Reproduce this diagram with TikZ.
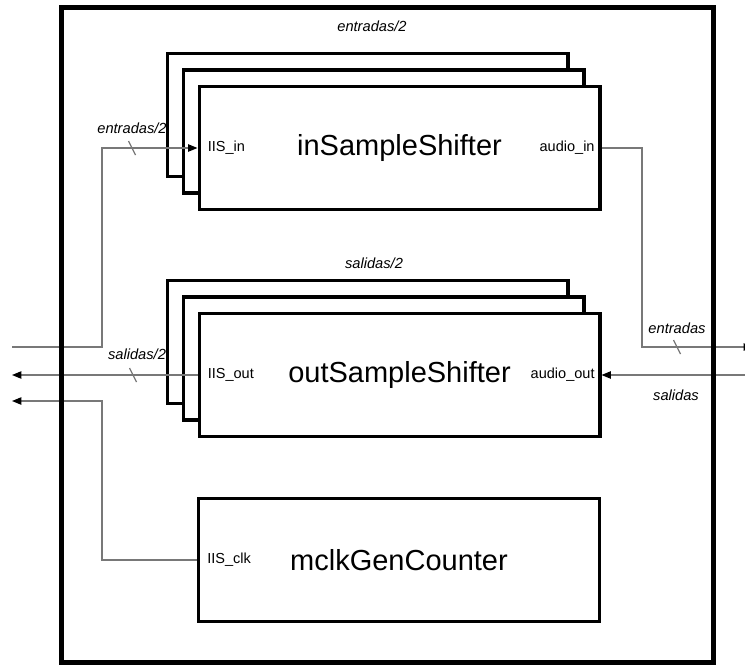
\documentclass[tikz,border=0pt]{standalone}
\usepackage{fontspec}
\setmainfont{Liberation Sans}
\usetikzlibrary{arrows.meta,calc}
\definecolor{wiregray}{RGB}{120,120,120}

\begin{document}
\begin{tikzpicture}[x=0.75pt,y=-0.75pt,
  blockbox/.style={draw=black, line width=2.6pt, fill=white,
    minimum width=300.4pt, minimum height=92.25pt, inner sep=0pt,
    font=\fontsize{21.75}{26}\selectfont},
  port/.style={inner sep=0pt, font=\fontsize{10.9}{13}\selectfont},
  buslabel/.style={inner sep=0pt, font=\fontsize{11}{13}\selectfont\itshape},
  conn/.style={draw=wiregray, line width=0.9pt},
  sig/.style={conn, -{Triangle[length=7pt,width=5.5pt,color=black]}},
  bustick/.pic={\draw[conn] (-3.5,-7) -- (3.5,7);}
]
\useasboundingbox (0,0) rectangle (745,664);

% inSampleShifter stack (three instances)
\node[blockbox] (bin) at (367.5,115) {};
\node[blockbox] (min) at (383.5,131.5) {};
\node[blockbox] (fin) at (399.5,148) {inSampleShifter};
\node[port, anchor=west] (pin)  at ([xshift=7.5pt]fin.west) {IIS\_in};
\node[port, anchor=east] (pain) at ([xshift=-5pt]fin.east) {audio\_in};
\node[buslabel] (lin) at (372,26) {entradas/2};

% outSampleShifter stack
\node[blockbox] (bout) at (367.5,342) {};
\node[blockbox] (mout) at (383.5,358.5) {};
\node[blockbox] (fout) at (399.5,375) {outSampleShifter};
\node[port, anchor=west] (pout)  at ([xshift=7.5pt]fout.west) {IIS\_out};
\node[port, anchor=east] (paout) at ([xshift=-5pt]fout.east) {audio\_out};
\node[buslabel] (lout) at (374,263) {salidas/2};

% clock generator
\node[blockbox] (clk) at (399,560) {mclkGenCounter};
\node[port, anchor=west] (pclk) at ([xshift=7.5pt]clk.west) {IIS\_clk};

% external ends of the wires
\coordinate (inL)  at (12,347);
\coordinate (outL) at (12,375);
\coordinate (clkL) at (12,401);
\coordinate (inR)  at (753,347);
\coordinate (outR) at (745,375);

% wires
\draw[sig] (inL) -- ++(90,0) |- (fin.west);
\draw[sig] (fout.west) -- (outL);
\draw[sig] (clk.west) -| ($(clkL)+(90,0)$) -- (clkL);
\draw[sig] (fin.east) -| ($(inR)+(-111,0)$) -- (inR);
\draw[sig] (outR) -- (fout.east);

% bus width marks and labels
\pic at (132,148) {bustick};
\pic at (133,375) {bustick};
\pic at (677,347) {bustick};
\node[buslabel] (lbin)  at (132,128) {entradas/2};
\node[buslabel] (lbout) at (137,354) {salidas/2};
\node[buslabel] (lrin)  at (677,328) {entradas};
\node[buslabel] (lrout) at (676,395) {salidas};

% enclosing top-level entity
\draw[line width=3.75pt] (61.5,7) rectangle (713,662);
\end{tikzpicture}
\end{document}
